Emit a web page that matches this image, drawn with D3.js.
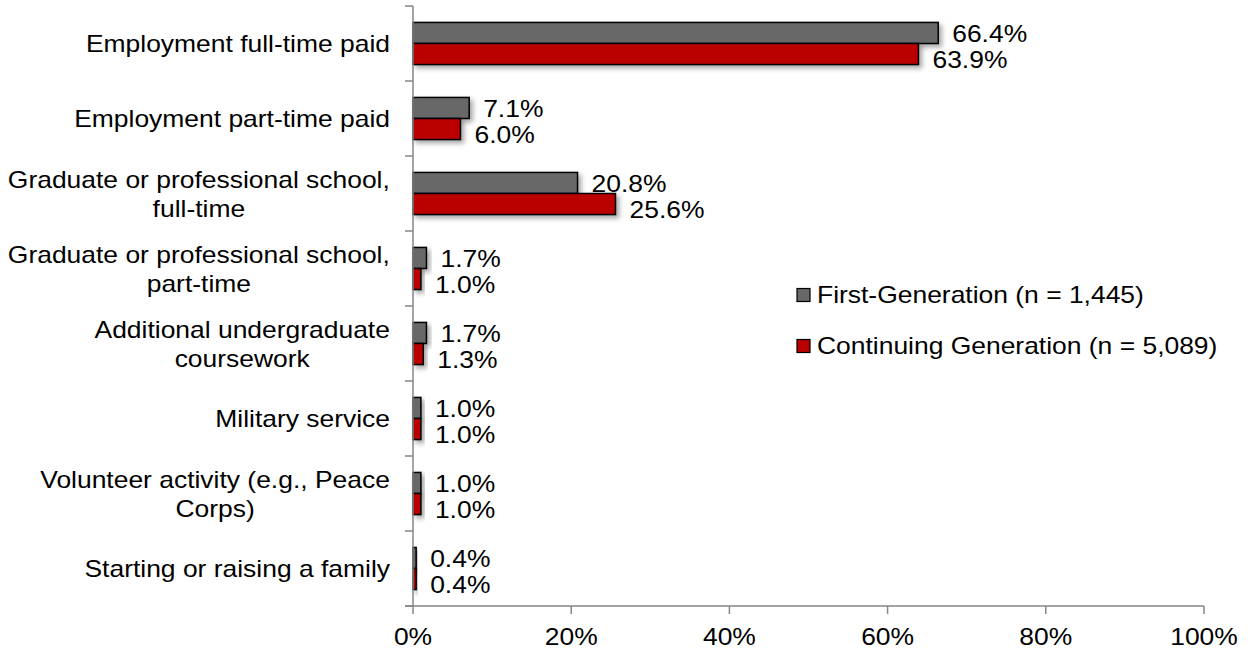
<!DOCTYPE html>
<html>
<head>
<meta charset="utf-8">
<script src="https://cdn.jsdelivr.net/npm/d3@7"></script>
<style>
  body { margin: 0; background: #fff; }
  text { font-family: "Liberation Sans", Arial, sans-serif; fill: #000; }
</style>
</head>
<body>
<svg id="chart" width="1250" height="652"></svg>
<script>
var categories = [
  "Employment full-time paid",
  "Employment part-time paid",
  "Graduate or professional school, full-time",
  "Graduate or professional school, part-time",
  "Additional undergraduate coursework",
  "Military service",
  "Volunteer activity (e.g., Peace Corps)",
  "Starting or raising a family"
];
var seriesNames = ["First-Generation (n = 1,445)", "Continuing Generation (n = 5,089)"];
var firstGen = [66.4, 7.1, 20.8, 1.7, 1.7, 1.0, 1.0, 0.4];
var continuingGen = [63.9, 6.0, 25.6, 1.0, 1.3, 1.0, 1.0, 0.4];
var xTicks = [0, 20, 40, 60, 80, 100];

var colors = ["#686868", "#bb0000"];
var fontSize = 23;
var sx = 1.15; // the original text is a bit wider than Liberation Sans

// put a text at (x, y), stretched horizontally
function place(x, y) {
  return "translate(" + x + "," + y + ") scale(" + sx + ",1)";
}

function drawChart() {
  var svg = d3.select("#chart"),
    left = 413, right = 1204, top = 6, bottom = 606;

  var data = categories.map(function (c, i) {
    return { category: c, values: [firstGen[i], continuingGen[i]] };
  });

  var x = d3.scaleLinear().domain([0, 100]).range([left, right]);
  var y = d3.scaleBand().domain(categories).range([top, bottom]).paddingInner(0);
  var y1 = d3.scaleBand().domain([0, 1]).range([0, y.bandwidth()]).paddingOuter(0.78);

  // soft shadow like the Excel bars
  var defs = svg.append("defs");
  var f = defs.append("filter").attr("id", "shadow")
    .attr("x", "-20%").attr("y", "-20%").attr("width", "160%").attr("height", "180%");
  f.append("feDropShadow")
    .attr("dx", 3).attr("dy", 3).attr("stdDeviation", 2.5)
    .attr("flood-color", "#000").attr("flood-opacity", 0.35);

  var groups = svg.append("g")
    .selectAll("g")
    .data(data)
    .enter()
    .append("g")
    .attr("transform", function (d) { return "translate(0," + y(d.category) + ")"; });

  groups.selectAll("rect")
    .data(function (d) { return d.values; })
    .enter()
    .append("rect")
    .attr("x", x(0))
    .attr("y", function (d, i) { return y1(i); })
    .attr("width", function (d) { return x(d) - x(0); })
    .attr("height", y1.bandwidth())
    .attr("fill", function (d, i) { return colors[i]; })
    .attr("stroke", "#000")
    .attr("stroke-width", 1.5)
    .attr("filter", "url(#shadow)");

  // value labels
  groups.selectAll("text.value")
    .data(function (d) { return d.values; })
    .enter()
    .append("text")
    .attr("class", "value")
    .attr("transform", function (d, i) {
      return place(x(d) + 14, y1(i) + y1.bandwidth() / 2 + (i === 0 ? 1 : 6));
    })
    .attr("dy", "0.35em")
    .style("font-size", fontSize + "px")
    .text(function (d) { return d.toFixed(1) + "%"; });

  // y axis: line + ticks at category boundaries
  var axisColor = "#868686";
  var yAxis = svg.append("g");
  yAxis.append("line")
    .attr("x1", left).attr("x2", left).attr("y1", top).attr("y2", bottom)
    .attr("stroke", axisColor).attr("stroke-width", 1.5);
  yAxis.selectAll("line.tick")
    .data(d3.range(categories.length + 1))
    .enter()
    .append("line")
    .attr("class", "tick")
    .attr("x1", left - 8).attr("x2", left)
    .attr("y1", function (i) { return top + i * y.step(); })
    .attr("y2", function (i) { return top + i * y.step(); })
    .attr("stroke", axisColor).attr("stroke-width", 1.5);

  // category labels, wrapped
  var labelRight = 390, maxWidth = 392, lineH = 29;
  data.forEach(function (d) {
    var words = d.category.split(" "), lines = [], cur = "";
    var probe = svg.append("text").style("font-size", fontSize + "px");
    var len = function (s) { probe.text(s); return probe.node().getComputedTextLength() * sx; };
    words.forEach(function (w) {
      var test = cur ? cur + " " + w : w;
      if (len(test) > maxWidth && cur) {
        lines.push(cur);
        cur = w;
      } else {
        cur = test;
      }
    });
    lines.push(cur);
    var maxW = d3.max(lines, len);
    probe.remove();
    var cy = y(d.category) + y.bandwidth() / 2 + 0.5;
    lines.forEach(function (l, i) {
      svg.append("text")
        .attr("text-anchor", lines.length > 1 ? "middle" : "end")
        .attr("transform", place(lines.length > 1 ? labelRight - maxW / 2 : labelRight,
          cy + (i - (lines.length - 1) / 2) * lineH))
        .attr("dy", "0.35em")
        .style("font-size", fontSize + "px")
        .text(l);
    });
  });

  // x axis
  var xAxis = svg.append("g");
  xAxis.append("line")
    .attr("x1", left - 8).attr("x2", right).attr("y1", bottom).attr("y2", bottom)
    .attr("stroke", axisColor).attr("stroke-width", 1.5);
  xAxis.selectAll("line.tick")
    .data(xTicks)
    .enter()
    .append("line")
    .attr("class", "tick")
    .attr("x1", function (d) { return x(d); })
    .attr("x2", function (d) { return x(d); })
    .attr("y1", bottom).attr("y2", bottom + 8)
    .attr("stroke", axisColor).attr("stroke-width", 1.5);
  xAxis.selectAll("text")
    .data(xTicks)
    .enter()
    .append("text")
    .attr("transform", function (d) { return place(x(d), 645); })
    .attr("text-anchor", "middle")
    .style("font-size", fontSize + "px")
    .text(function (d) { return d + "%"; });

  // legend
  var legend = svg.append("g")
    .selectAll("g")
    .data(seriesNames)
    .enter()
    .append("g")
    .attr("transform", function (d, i) { return "translate(797," + (295 + i * 51) + ")"; });
  legend.append("rect")
    .attr("x", 0).attr("y", -6.5)
    .attr("width", 13).attr("height", 13)
    .attr("fill", function (d, i) { return colors[i]; })
    .attr("stroke", "#000").attr("stroke-width", 1.2);
  legend.append("text")
    .attr("transform", place(20, 0))
    .attr("dy", "0.35em")
    .style("font-size", fontSize + "px")
    .text(function (d) { return d; });
}

drawChart();
</script>
</body>
</html>
